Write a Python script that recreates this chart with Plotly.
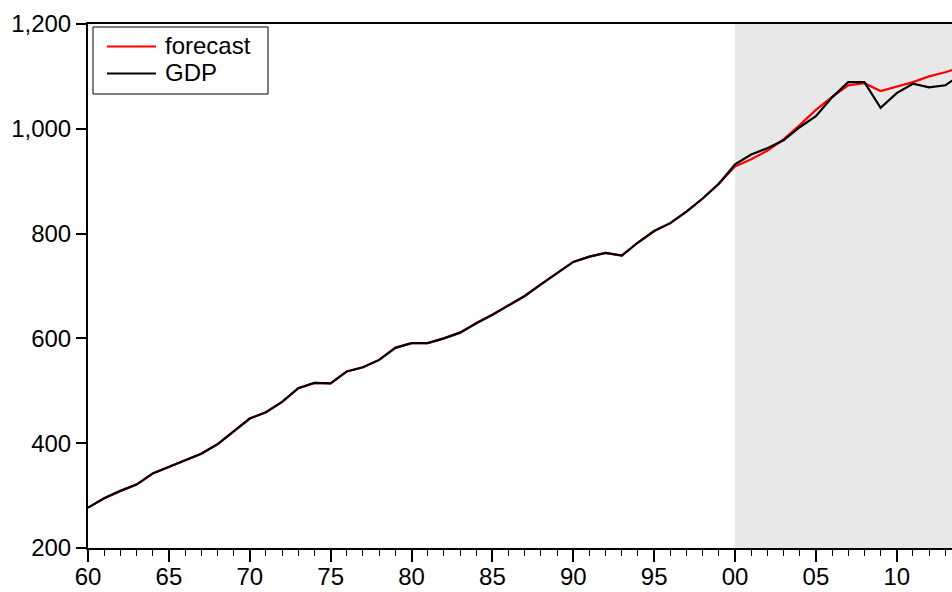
import plotly.graph_objects as go

# Annual series, 1960-2014
years = list(range(1960, 2015))

gdp = [
    277, 295, 309, 321, 342, 355, 367, 380, 398, 423,
    447, 459, 479, 505, 515, 514, 537, 545, 559, 582,
    591, 591, 600, 611, 629, 645, 663, 681, 703, 725,
    746, 756, 763, 758, 783, 805, 820, 842, 867, 895,
    932, 951, 963, 978, 1003, 1024, 1060, 1089, 1089, 1040,
    1068, 1086, 1079, 1083, 1104,
]

# In-sample fit follows GDP up to 1999; forecast from 2000 on
forecast = gdp[:40] + [
    928, 942, 958, 980, 1007, 1036, 1061, 1083, 1087, 1072,
    1081, 1089, 1100, 1108, 1118,
]

forecast_start = 2000
major_years = list(range(1960, 2015, 5))
major_labels = [f"{y % 100:02d}" for y in major_years]
y_ticks = [200, 400, 600, 800, 1000, 1200]

series_names = ["forecast", "GDP"]
series_colors = ["#FF0000", "#000000"]

FONT = "Liberation Sans, Arial, sans-serif"

# Plot area geometry in pixels (used to place the boxed key)
W, H = 952, 592
ML, MR, MT, MB = 88, 0, 24, 44
PW, PH = W - ML - MR, H - MT - MB


def px_x(px):
    return (px - ML) / PW


def px_y(py):
    return 1 - (py - MT) / PH


fig = go.Figure()
for name, values, color in zip(series_names, [forecast, gdp], series_colors):
    fig.add_trace(go.Scatter(
        x=years, y=values, mode="lines", name=name,
        line=dict(color=color, width=2.2),
    ))

# Shaded forecast period
fig.add_shape(
    type="rect", xref="x", yref="paper",
    x0=forecast_start, x1=2020, y0=0, y1=1,
    fillcolor="#E8E8E8", line_width=0, layer="below",
)

# Boxed key in the upper-left corner
fig.add_shape(
    type="rect", xref="paper", yref="paper",
    x0=px_x(93), x1=px_x(268), y0=px_y(94), y1=px_y(27),
    fillcolor="white", line=dict(color="black", width=1),
)
for i, (name, color) in enumerate(zip(series_names, series_colors)):
    row_y = 46.5 + 27 * i
    fig.add_shape(
        type="line", xref="paper", yref="paper",
        x0=px_x(107), x1=px_x(156), y0=px_y(row_y), y1=px_y(row_y),
        line=dict(color=color, width=2),
    )
    fig.add_annotation(
        xref="paper", yref="paper", x=px_x(163), y=px_y(row_y - 1),
        xanchor="left", yanchor="middle", showarrow=False,
        text=name, font=dict(family=FONT, size=24, color="black"),
    )

fig.update_layout(
    width=W, height=H,
    margin=dict(l=ML, r=MR, t=MT, b=MB),
    paper_bgcolor="white", plot_bgcolor="white",
    font=dict(family=FONT, size=24, color="black"),
    showlegend=False,
    xaxis=dict(
        range=[1960, 1960 + PW / 16.175],
        tickmode="array", tickvals=major_years, ticktext=major_labels,
        ticks="outside", ticklen=12, tickwidth=1.5, tickcolor="black",
        minor=dict(dtick=1, tick0=1960, ticks="outside", ticklen=6,
                   tickwidth=1, tickcolor="black", showgrid=False),
        showline=True, linecolor="black", linewidth=2, mirror=True,
        showgrid=False, zeroline=False,
        ticklabelstandoff=-6,
        tickfont=dict(family=FONT, size=24, color="black"),
    ),
    yaxis=dict(
        range=[200, 1200],
        tickmode="array", tickvals=y_ticks,
        tickformat=",d",
        ticks="outside", ticklen=10, tickwidth=1.5, tickcolor="black",
        showline=True, linecolor="black", linewidth=2,
        showgrid=False, zeroline=False,
        tickfont=dict(family=FONT, size=24, color="black"),
    ),
)

fig.write_html("out.html")
